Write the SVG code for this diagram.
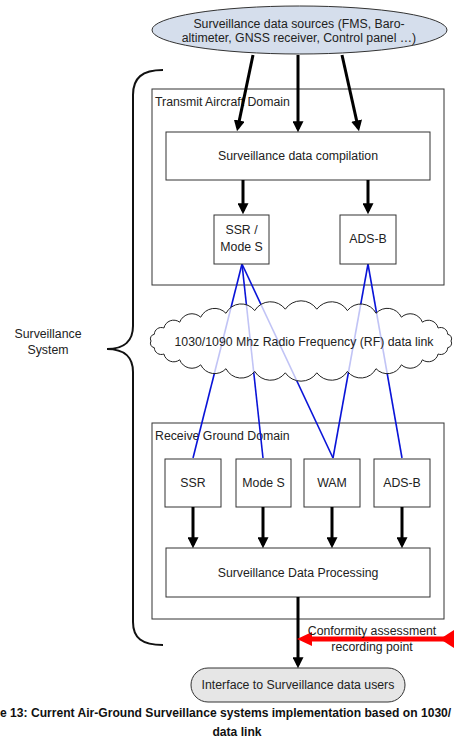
<svg xmlns="http://www.w3.org/2000/svg" width="454" height="741" viewBox="0 0 454 741">
<defs>
<style>
text{font-family:"Liberation Sans",Arial,sans-serif;font-size:12.3px;fill:#222}
.box{fill:#fff;stroke:#333;stroke-width:1}
.dom{fill:#fff;stroke:#333;stroke-width:1}
.arr{stroke:#000;stroke-width:3;fill:none;marker-end:url(#ah)}
.rf{stroke:#0a14d8;stroke-width:1.6;fill:none}
.c{text-anchor:middle}
.cap{font-weight:bold;font-size:12.1px;fill:#111}
</style>
<marker id="ah" viewBox="0 0 10 10" refX="7" refY="5" markerWidth="11" markerHeight="11" markerUnits="userSpaceOnUse" orient="auto">
<path d="M0,0 L10,5 L0,10 z" fill="#000"/>
</marker>
</defs>
<rect width="454" height="741" fill="#fff"/>

<g id="brace">
<path d="M163,70 C142,70 133,78 133,95 L133,326 C133,340 125,349 107,349 C125,349 133,358 133,372 L133,622 C133,638 142,645 163,645" fill="none" stroke="#111" stroke-width="2"/>
<text class="c" x="48" y="338">Surveillance</text>
<text class="c" x="48" y="354">System</text>
</g>

<g id="transmit-domain">
<rect class="dom" x="152" y="89" width="292" height="196"/>
<text x="155" y="106">Transmit Aircraft Domain</text>
</g>

<g id="receive-domain">
<rect class="dom" x="152" y="423" width="292" height="196"/>
<text x="155" y="440">Receive Ground Domain</text>
</g>

<g id="rf-links">
<line class="rf" x1="242" y1="264" x2="193" y2="458"/>
<line class="rf" x1="242" y1="264" x2="263" y2="458"/>
<line class="rf" x1="242" y1="264" x2="333" y2="458"/>
<line class="rf" x1="368" y1="264" x2="333" y2="458"/>
<line class="rf" x1="368" y1="264" x2="402" y2="458"/>
</g>

<g id="rf-cloud">
<path d="M451,341 A4.5,4.5 0 0 1 447.7,347.7 A7,7 0 0 1 438.1,354 A10,10 0 0 1 422.4,359.8 A13,13 0 0 1 401.4,364.8 A15.5,15.5 0 0 1 376,368.7 A17,17 0 0 1 347.4,371.4 A18.5,18.5 0 0 1 316.8,372.8 A19,19 0 0 1 285.3,372.8 A18.5,18.5 0 0 1 254.7,371.4 A17,17 0 0 1 226,368.7 A15.5,15.5 0 0 1 200.7,364.8 A13,13 0 0 1 179.7,359.8 A10,10 0 0 1 163.9,354 A7,7 0 0 1 154.3,347.7 A4.5,4.5 0 0 1 151,341 A4.5,4.5 0 0 1 154.3,334.3 A7,7 0 0 1 163.9,328 A10,10 0 0 1 179.7,322.2 A13,13 0 0 1 200.7,317.2 A15.5,15.5 0 0 1 226,313.3 A17,17 0 0 1 254.7,310.6 A18.5,18.5 0 0 1 285.3,309.2 A19,19 0 0 1 316.8,309.2 A18.5,18.5 0 0 1 347.4,310.6 A17,17 0 0 1 376,313.3 A15.5,15.5 0 0 1 401.4,317.2 A13,13 0 0 1 422.4,322.2 A10,10 0 0 1 438.1,328 A7,7 0 0 1 447.7,334.3 A4.5,4.5 0 0 1 451,341 Z" fill="#fff" fill-opacity="0.75" stroke="#222" stroke-width="1"/>
<text class="c" x="304" y="346">1030/1090 Mhz Radio Frequency (RF) data link</text>
</g>

<g id="sources">
<ellipse cx="299.5" cy="30" rx="147.5" ry="24" fill="#d5deec" stroke="#333" stroke-width="1"/>
<text class="c" x="299" y="28">Surveillance data sources (FMS, Baro-</text>
<text class="c" x="299" y="42">altimeter, GNSS receiver, Control panel …)</text>
</g>

<g id="compilation">
<rect class="box" x="166" y="132" width="264" height="48"/>
<text class="c" x="298" y="160">Surveillance data compilation</text>
</g>

<g id="tx-ssr">
<rect class="box" x="214" y="215" width="55" height="49"/>
<text class="c" x="241.5" y="234">SSR /</text>
<text class="c" x="241.5" y="251">Mode S</text>
</g>

<g id="tx-adsb">
<rect class="box" x="340" y="215" width="56" height="49"/>
<text class="c" x="368" y="243">ADS-B</text>
</g>

<g id="rx-ssr">
<rect class="box" x="165" y="459" width="56" height="48"/>
<text class="c" x="193" y="487">SSR</text>
</g>
<g id="rx-modes">
<rect class="box" x="236" y="459" width="55" height="48"/>
<text class="c" x="263.5" y="487">Mode S</text>
</g>
<g id="rx-wam">
<rect class="box" x="304" y="459" width="56" height="48"/>
<text class="c" x="332" y="487">WAM</text>
</g>
<g id="rx-adsb">
<rect class="box" x="374" y="459" width="56" height="48"/>
<text class="c" x="402" y="487">ADS-B</text>
</g>

<g id="processing">
<rect class="box" x="166" y="548" width="264" height="49"/>
<text class="c" x="298" y="577">Surveillance Data Processing</text>
</g>

<g id="interface">
<rect x="191" y="668" width="214" height="34" rx="17" ry="17" fill="#e6e6e6" stroke="#333" stroke-width="1"/>
<text class="c" x="298" y="689">Interface to Surveillance data users</text>
</g>

<g id="connectors">
<line class="arr" x1="253" y1="55" x2="237.7" y2="128.1"/>
<line class="arr" x1="298" y1="55" x2="298" y2="129"/>
<line class="arr" x1="342" y1="55" x2="358.3" y2="128.1"/>
<line class="arr" x1="243" y1="180" x2="243" y2="211"/>
<line class="arr" x1="368" y1="180" x2="368" y2="211"/>
<line class="arr" x1="193" y1="507" x2="193" y2="545"/>
<line class="arr" x1="263" y1="507" x2="263" y2="545"/>
<line class="arr" x1="332" y1="507" x2="332" y2="545"/>
<line class="arr" x1="402" y1="507" x2="402" y2="545"/>
<line class="arr" x1="298" y1="597" x2="298" y2="665" stroke-width="3.5"/>
</g>

<g id="conformity">
<line x1="310" y1="639" x2="448" y2="639" stroke="#ff0000" stroke-width="5"/>
<polygon points="297,639 312,632 312,646" fill="#ff0000"/>
<polygon points="440,639 454,630 454,648" fill="#ff0000"/>
<text class="c" x="372" y="635">Conformity assessment</text>
<text class="c" x="372" y="651">recording point</text>
</g>

<g id="caption">
<text class="cap" x="0" y="717">e 13: Current Air-Ground Surveillance systems implementation based on 1030/</text>
<text class="cap c" x="237" y="736">data link</text>
</g>
</svg>
